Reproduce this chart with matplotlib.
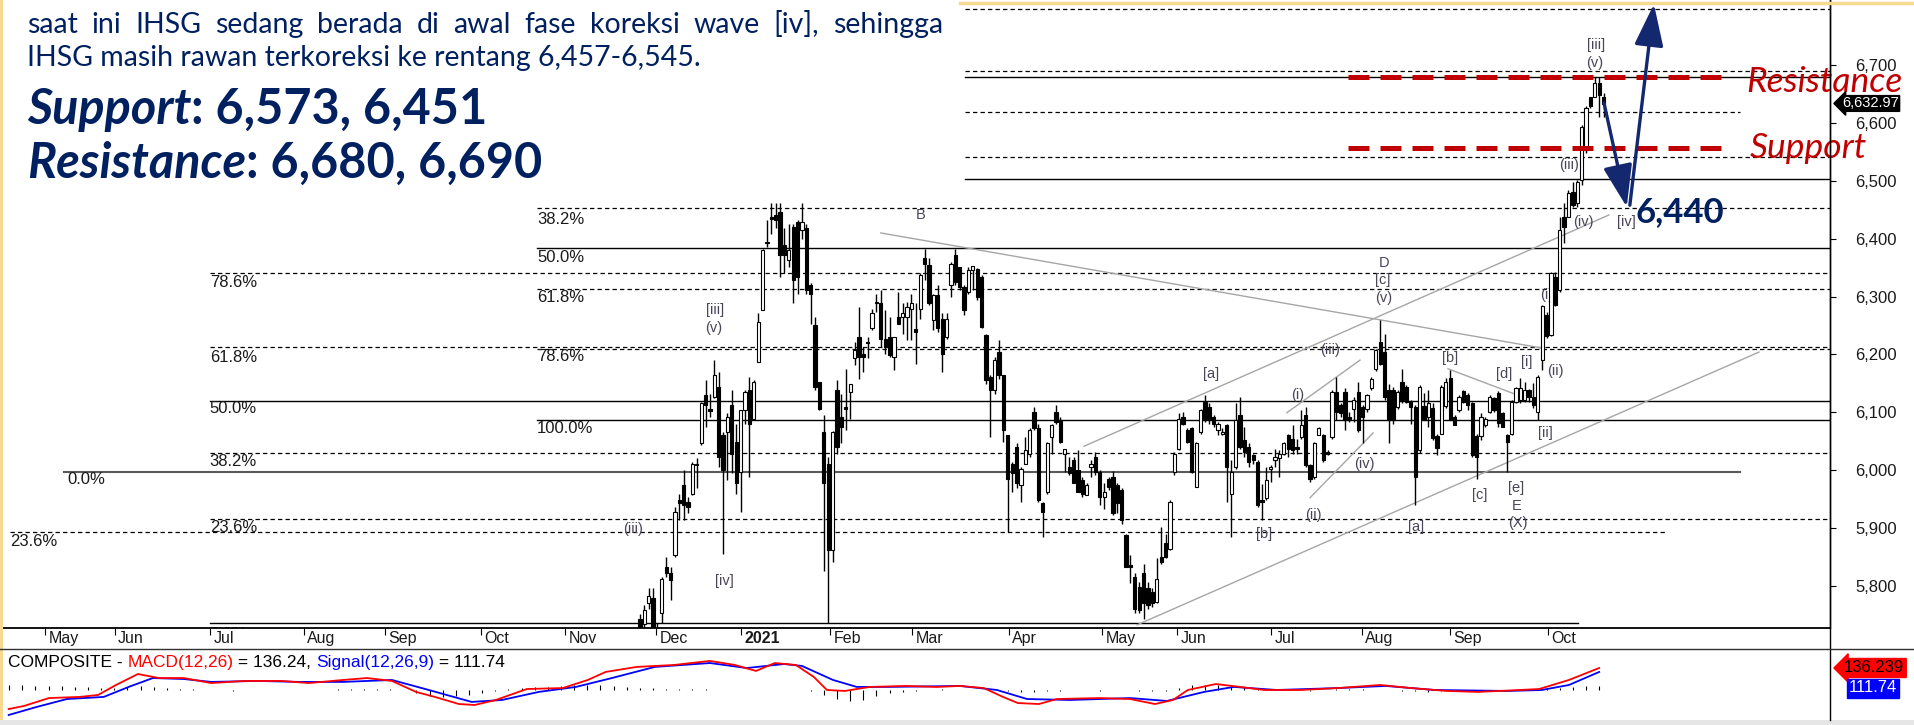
import matplotlib
matplotlib.use("Agg")
import matplotlib.pyplot as plt
from matplotlib import transforms
from matplotlib.lines import Line2D
from matplotlib.patches import Rectangle

W, H = 1915, 725
NAVY = "#002060"
RED = "#c00000"
WAVE = "#4a4458"
ARROW = "#13286e"

# daily candles, index 0 = first visible candle (late Nov 2020) ... last = 21 Oct 2021
opens = [5742, 5734, 5769, 5778, 5640, 5752, 5832, 5821, 5853, 5948, 5974, 5945, 5958, 6008, 6046, 6129,
         6105, 6126, 6144, 6060, 6065, 6112, 6049, 5997, 6103, 6138, 6089, 6187, 6276, 6395, 6438, 6441,
         6446, 6389, 6363, 6420, 6429, 6415, 6418, 6320, 6250, 6152, 6066, 6011, 5861, 6138, 6092, 6109,
         6135, 6193, 6230, 6201, 6220, 6245, 6290, 6289, 6227, 6230, 6196, 6265, 6265, 6265, 6279, 6243,
         6279, 6366, 6354, 6259, 6302, 6262, 6230, 6320, 6372, 6351, 6317, 6308, 6346, 6348, 6333, 6233,
         6161, 6138, 6204, 6164, 6060, 6011, 6040, 5974, 6011, 6028, 6100, 6072, 5942, 5962, 6057, 6100,
         6086, 6028, 6005, 6017, 6000, 5982, 5956, 6005, 6023, 5997, 5953, 5985, 5988, 5974, 5965, 5887,
         5835, 5815, 5798, 5821, 5795, 5789, 5772, 5850, 5873, 5864, 5997, 6037, 6092, 6069, 6072, 5971,
         6066, 6118, 6109, 6092, 6069, 6063, 6077, 5959, 6005, 6095, 6051, 6040, 6026, 6014, 5948, 5951,
         6002, 6017, 6020, 6028, 6060, 6054, 6040, 6057, 6095, 6008, 5988, 6060, 6060, 6031, 6057, 6135,
         6112, 6135, 6092, 6106, 6135, 6109, 6106, 6141, 6175, 6221, 6204, 6138, 6138, 6109, 6152, 6144,
         6118, 6109, 6035, 6110, 6092, 6107, 6058, 6063, 6110, 6159, 6092, 6104, 6136, 6130, 6115, 6058,
         6058, 6078, 6101, 6124, 6133, 6098, 6060, 6063, 6118, 6121, 6121, 6138, 6127, 6101, 6190, 6268,
         6233, 6334, 6311, 6438, 6438, 6481, 6461, 6502, 6554, 6646, 6646, 6669, 6646]
highs = [5750, 5766, 5795, 5795, 5735, 5815, 5850, 5832, 5936, 5959, 6000, 5953, 6014, 6020, 6117, 6155,
         6132, 6190, 6170, 6065, 6098, 6138, 6080, 6103, 6138, 6161, 6155, 6271, 6383, 6432, 6461, 6461,
         6461, 6418, 6426, 6426, 6432, 6461, 6426, 6323, 6265, 6152, 6095, 6022, 6067, 6155, 6132, 6175,
         6149, 6222, 6282, 6213, 6230, 6279, 6305, 6311, 6276, 6265, 6230, 6308, 6288, 6291, 6305, 6288,
         6340, 6383, 6366, 6305, 6320, 6271, 6271, 6360, 6383, 6351, 6320, 6351, 6353, 6350, 6337, 6236,
         6164, 6196, 6224, 6164, 6060, 6014, 6046, 6005, 6057, 6072, 6109, 6080, 5945, 6049, 6080, 6112,
         6092, 6037, 6023, 6023, 6034, 5988, 5977, 6017, 6031, 6000, 5977, 5988, 5999, 5977, 5968, 5890,
         5853, 5821, 5806, 5838, 5806, 5795, 5847, 5901, 5890, 5948, 6031, 6098, 6100, 6072, 6074, 6049,
         6106, 6129, 6115, 6095, 6083, 6072, 6080, 6017, 6115, 6126, 6075, 6046, 6028, 6017, 5976, 6005,
         6008, 6037, 6034, 6049, 6063, 6077, 6054, 6103, 6109, 6011, 6049, 6075, 6063, 6034, 6138, 6161,
         6115, 6141, 6100, 6126, 6152, 6112, 6132, 6161, 6210, 6259, 6236, 6149, 6144, 6138, 6175, 6147,
         6121, 6112, 6147, 6133, 6138, 6115, 6063, 6147, 6159, 6173, 6095, 6130, 6138, 6133, 6118, 6063,
         6098, 6092, 6130, 6127, 6136, 6101, 6063, 6121, 6144, 6159, 6153, 6140, 6150, 6164, 6286, 6274,
         6343, 6343, 6438, 6461, 6484, 6499, 6502, 6596, 6629, 6646, 6680, 6680, 6652]
lows = [5705, 5720, 5760, 5600, 5620, 5735, 5815, 5775, 5850, 5913, 5913, 5925, 5956, 5968, 6044, 6075,
        6092, 6124, 6005, 5855, 5982, 5994, 5959, 5927, 6080, 5988, 6089, 6187, 6276, 6386, 6409, 6418,
        6334, 6340, 6351, 6288, 6305, 6400, 6305, 6253, 6138, 6103, 5826, 5736, 5840, 6028, 6046, 6069,
        6089, 6181, 6158, 6170, 6193, 6242, 6273, 6213, 6201, 6196, 6173, 6253, 6236, 6224, 6224, 6184,
        6262, 6328, 6285, 6242, 6239, 6170, 6227, 6300, 6320, 6311, 6268, 6305, 6311, 6294, 6245, 6149,
        6057, 6132, 6158, 6049, 5893, 5962, 5968, 5945, 6011, 6023, 6069, 5945, 5884, 5959, 6028, 6080,
        6046, 5997, 5991, 5977, 5962, 5953, 5956, 5988, 5991, 5939, 5933, 5965, 5922, 5925, 5907, 5832,
        5804, 5752, 5752, 5743, 5760, 5763, 5769, 5838, 5847, 5861, 5991, 6034, 6077, 6046, 5994, 5971,
        6063, 6083, 6080, 6075, 6060, 6060, 5945, 5884, 6002, 6037, 6023, 6005, 6010, 5936, 5913, 5948,
        5979, 6005, 5988, 6026, 6023, 6028, 6028, 6054, 6005, 5979, 5985, 6060, 6014, 6026, 6054, 6086,
        6092, 6069, 6083, 6083, 6066, 6046, 6100, 6138, 6172, 6181, 6121, 6046, 6080, 6106, 6115, 6115,
        6080, 5940, 6029, 6086, 6075, 6052, 6026, 6063, 6107, 6086, 6078, 6101, 6115, 6104, 6023, 5985,
        6052, 6075, 6098, 6101, 6075, 6075, 5997, 6060, 6115, 6115, 6118, 6118, 6107, 6086, 6173, 6228,
        6231, 6283, 6308, 6392, 6438, 6455, 6455, 6493, 6548, 6626, 6646, 6611, 6611]
closes = [5728, 5757, 5782, 5612, 5724, 5812, 5821, 5809, 5928, 5942, 5939, 5936, 6010, 6011, 6115, 6112,
          6102, 6164, 6023, 6000, 6092, 6028, 5977, 6103, 6135, 6080, 6152, 6256, 6380, 6392, 6435, 6432,
          6372, 6372, 6380, 6328, 6334, 6429, 6311, 6305, 6144, 6106, 5977, 5861, 6065, 6040, 6075, 6106,
          6149, 6207, 6196, 6196, 6219, 6271, 6288, 6227, 6213, 6199, 6230, 6253, 6271, 6282, 6288, 6239,
          6337, 6357, 6288, 6302, 6245, 6201, 6262, 6357, 6325, 6317, 6276, 6346, 6353, 6299, 6248, 6155,
          6138, 6190, 6164, 6069, 5985, 5994, 5977, 6002, 6034, 6069, 6072, 5948, 5928, 6046, 6077, 6083,
          6049, 6037, 5994, 5977, 5962, 5959, 5974, 6011, 5997, 5953, 5962, 5970, 5925, 5942, 5913, 5832,
          5832, 5760, 5757, 5769, 5766, 5769, 5812, 5841, 5850, 5945, 6028, 6089, 6080, 6049, 5997, 6046,
          6103, 6086, 6086, 6080, 6080, 6066, 6005, 5997, 6086, 6040, 6031, 6014, 6017, 5939, 5945, 5982,
          6005, 6023, 6028, 6046, 6037, 6034, 6037, 6077, 6008, 5985, 6046, 6072, 6017, 6028, 6135, 6100,
          6098, 6086, 6086, 6121, 6069, 6092, 6129, 6158, 6207, 6184, 6126, 6086, 6086, 6135, 6121, 6118,
          6109, 5988, 6144, 6086, 6115, 6055, 6038, 6144, 6153, 6086, 6078, 6127, 6118, 6112, 6026, 6023,
          6092, 6089, 6127, 6104, 6081, 6075, 6049, 6118, 6141, 6141, 6138, 6127, 6112, 6161, 6283, 6231,
          6340, 6286, 6415, 6420, 6479, 6458, 6499, 6594, 6626, 6629, 6669, 6649, 6633]
last_price = "6,632.97"

month_pos = [-135.8, -119.9, -98.2, -76.7, -58.2, -36.3, -17.1, 3.7, 23.1, 43.4,
             62.1, 84.2, 105.5, 122.6, 144.1, 164.8, 184.9, 207.3]
month_lab = ["May", "Jun", "Jul", "Aug", "Sep", "Oct", "Nov", "Dec", "2021", "Feb",
             "Mar", "Apr", "May", "Jun", "Jul", "Aug", "Sep", "Oct"]
price_ticks = [5800, 5900, 6000, 6100, 6200, 6300, 6400, 6500, 6600, 6700]

# retracement / projection levels: price, start, end, style (d dashed, s solid, g grey)
fib_price = [6797, 6690, 6680, 6620, 6541, 6503, 6453, 6384, 6340, 6313,
             6213, 6209, 6120, 6086, 6029, 5997, 5916, 5893, 5736]
fib_start = [74.2, 74.2, 74.2, 74.2, 74.2, 74.2, -23.5, -23.5, -98.2, -23.5,
             -98.2, -23.5, -98.2, -23.5, -98.2, -131.5, -98.2, -143.8, -98.2]
fib_end = [280, 280, 280, 251.1, 280, 280, 280, 280, 280, 280,
           280, 280, 280, 280, 280, 251.1, 280, 234.5, 214.2]
fib_style = ["d", "d", "s", "d", "d", "s", "d", "s", "d", "d",
             "d", "d", "s", "s", "d", "g", "d", "d", "s"]

fib_text = ["38.2%", "50.0%", "78.6%", "61.8%", "61.8%", "78.6%", "50.0%", "100.0%",
            "38.2%", "0.0%", "23.6%", "23.6%", "0.0%"]
fib_tx = [-23.5, -23.5, -98.2, -23.5, -98.2, -23.5, -98.2, -23.5, -98.2, -130.8, -98.2, -143.8, -98.2]
fib_ty = [6434, 6367, 6324, 6298, 6194, 6196, 6106, 6071, 6014, 5983, 5900, 5877, 5716]

wave_text = ["B", "[iii]", "(v)", "[iv]", "(iii)", "[a]", "[b]", "(i)", "(iii)", "D", "[c]", "(v)",
             "(iv)", "(ii)", "[a]", "[b]", "[c]", "[d]", "[e]", "E", "(X)", "[i]", "(ii)", "[ii]",
             "(i)", "(iv)", "[iv]", "(iii)", "[iii]", "(v)"]
wave_x = [64.2, 17.1, 16.9, 19.2, -1.6, 130.4, 142.5, 150.2, 157.5, 169.9, 169.6, 169.9,
          165.3, 153.7, 177.2, 184.9, 191.8, 197.3, 200.0, 200.2, 200.5, 202.5, 209.1, 206.8,
          207.1, 215.5, 225.3, 212.1, 218.3, 218.0]
wave_y = [6441, 6277, 6246, 5808, 5898, 6166, 5889, 6130, 6208, 6358, 6329, 6298,
          6010, 5922, 5901, 6194, 5957, 6166, 5969, 5938, 5908, 6187, 6171, 6064,
          6303, 6429, 6429, 6528, 6735, 6704]

trend_x0 = [55.0, 101.4, 113.5, 147.7, 153.0, 184.5]
trend_p0 = [6410, 6041, 5732, 6099, 5952, 6175]
trend_x1 = [205.9, 221.2, 255.5, 164.4, 167.4, 200.2]
trend_p1 = [6211, 6441, 6204, 6190, 6064, 6130]

resistance_lvl, support_lvl = 6680, 6557
zone_x = [161.6, 247.5]
path_x = [220.1, 225.3, 226.0, 231.5]
path_p = [6635, 6455, 6458, 6806]

macd_x = [-144.1, -140.6, -134.9, -127.9, -123.7, -119.6, -114.6, -109.8, -104.1, -97.9, -90.2,
          -81.7, -75.6, -67.8, -62.3, -56.6, -51.1, -46.8, -41.3, -37.7, -32.9, -25.8, -17.6,
          -11.9, -7.8, -0.7, 7.8, 16.0, 21.7, 26.5, 30.8, 35.6, 39.7, 42.7, 46.8, 52.5, 60.7,
          67.8, 73.1, 78.5, 82.9, 86.3, 91.1, 95.2, 105.0, 111.9, 117.6, 121.7, 125.1, 131.5,
          137.0, 142.5, 150.9, 159.4, 169.0, 176.0, 184.2, 191.3, 200.9, 205.3, 212.1, 219.0]
macd_v = [-118, -99, -50, -43, -31, 31, 99, 74, 74, 43, 56, 56, 43, 62, 74, 56, -12, -43, -87,
          -93, -62, 6, 12, 62, 112, 143, 155, 180, 155, 118, 167, 155, 81, 0, -6, 19, 25, 19,
          25, 12, -43, -81, -87, -56, -50, -56, -87, -62, 0, 37, 19, 0, 0, 12, 31, 12, -6, -12,
          0, 6, 62, 136.24]
sig_x = [-144.1, -137.7, -130.8, -122.4, -116.7, -111.2, -104.1, -97.9, -87.4, -77.6, -67.8,
         -56.6, -48.2, -38.4, -31.5, -23.1, -14.6, -6.4, 3.4, 16.0, 24.4, 32.9, 37.0, 44.1,
         49.5, 56.6, 73.1, 81.5, 88.4, 98.2, 111.9, 120.3, 128.8, 135.6, 145.4, 159.4, 170.3,
         181.5, 198.2, 205.9, 212.1, 219.0]
sig_v = [-155, -105, -56, -43, 19, 74, 68, 50, 56, 50, 50, 62, 0, -74, -62, -12, 19, 74, 143,
         167, 136, 161, 149, 62, 19, 19, 25, 0, -56, -62, -50, -68, -12, 19, 0, 12, 25, 0, -6,
         0, 31, 111.74]
hist_x = list(range(-144, 220, 3))
hist_v = [28, 30, 26, 24, 22, 20, 18, 15, 12, 20, 25, 18, 10, 6, 4, 3, -3, -4, -3, 3, 2,
          2, 3, 2, 3, 4, 5, 6, 8, 6, 3, -20, -35, -45, -40, -30, -18, -8, 5, 15, 18, 20,
          25, 28, 30, 28, 25, 20, 15, 10, 8, 6, 5, 4, 3, 2, 3, 2, 2, 3, 2, -4,
          -30, -55, -70, -60, -40, -20, -10, -5, 3, 4, 3, 2, 3, -3, -6, -10, -12, -8, -5, -3,
          -3, -4, 2, 3, -5, -8, -6, 15, 28, 32, 30, 24, 18, 10, 4, 2, -3, -4, 3, 4,
          6, 5, 3, -3, -5, -8, -10, -7, -5, -4, -3, -2, 2, 3, 4, 8, 15, 20, 24, 25]

plt.rcParams["font.family"] = ["Liberation Sans", "DejaVu Sans"]
fig = plt.figure(figsize=(W / 100, H / 100), dpi=100)
fig.patch.set_facecolor("white")


def fx(px):
    return px / W


def fy(py):
    return 1 - py / H


# ================= price panel
ax = fig.add_axes([fx(3), fy(628), fx(1830) - fx(3), 628 / H])
ax.set_xlim(-145.4, 271.7)
ax.set_ylim(5726.6, 6813)
ax.set_facecolor("white")

for p, x0, x1, st in zip(fib_price, fib_start, fib_end, fib_style):
    if st == "d":
        ax.plot([x0, x1], [p, p], color="black", lw=0.9, ls=(0, (3.5, 2.5)), zorder=1)
    elif st == "s":
        ax.plot([x0, x1], [p, p], color="black", lw=1.0, zorder=1)
    else:
        ax.plot([x0, x1], [p, p], color="#5a5a5a", lw=1.5, zorder=1)

for s, x, y in zip(fib_text, fib_tx, fib_ty):
    ax.text(x, y, s, fontsize=12, ha="left", va="center", color="#1a1a1a", zorder=2, clip_on=True)

for x0, p0, x1, p1 in zip(trend_x0, trend_p0, trend_x1, trend_p1):
    ax.plot([x0, x1], [p0, p1], color="#a6a6a6", lw=1.0, zorder=2)

for s, x, y in zip(wave_text, wave_x, wave_y):
    ax.text(x, y, s, fontsize=10.5, ha="center", va="center", color=WAVE, zorder=2)

idx = list(range(len(closes)))
ax.vlines(idx, lows, highs, color="black", lw=1.0, zorder=3)
bottoms = [min(o, c) for o, c in zip(opens, closes)]
heights = [max(abs(c - o), 1.5) for o, c in zip(opens, closes)]
fills = ["white" if c >= o else "black" for o, c in zip(opens, closes)]
ax.bar(idx, heights, bottom=bottoms, width=0.74, color=fills, edgecolor="black", linewidth=0.8, zorder=4)

# support / resistance zone and projected path
for lvl in (resistance_lvl, support_lvl):
    ax.plot(zone_x, [lvl, lvl], color=RED, lw=3.6, ls=(0, (4.2, 2.2)), zorder=5)
ax.text(252.5, 6654, "Resistance", color=RED, fontsize=25.5, family="Lato", style="italic",
        va="baseline", ha="left", clip_on=False, zorder=6)
ax.text(253.4, 6540, "Support", color=RED, fontsize=25.5, family="Lato", style="italic",
        va="baseline", ha="left", clip_on=False, zorder=6)

ax.annotate("", xy=(path_x[1], path_p[1]), xytext=(path_x[0], path_p[0]),
            arrowprops=dict(arrowstyle="-|>,head_length=1.3,head_width=0.45", color=ARROW, lw=2.4,
                            mutation_scale=20, shrinkA=0, shrinkB=0), zorder=6)
ax.annotate("", xy=(path_x[3], path_p[3]), xytext=(path_x[2], path_p[2]),
            arrowprops=dict(arrowstyle="-|>,head_length=1.3,head_width=0.45", color=ARROW, lw=2.4,
                            mutation_scale=20, shrinkA=0, shrinkB=0), zorder=6, annotation_clip=False)
ax.text(227.4, 6429, "6,440", fontsize=25, fontweight="bold", family="Lato", color=NAVY,
        va="baseline", ha="left", zorder=6)

# axes styling
for side in ("top", "left"):
    ax.spines[side].set_visible(False)
ax.spines["bottom"].set_linewidth(1.3)
ax.spines["right"].set_linewidth(1.0)
ax.yaxis.tick_right()
ax.set_yticks(price_ticks)
ax.set_yticklabels([f"{v:,}" for v in price_ticks])
ax.tick_params(axis="y", direction="out", length=4, width=0.8, pad=14, labelsize=12,
               labelcolor="#1a1a1a")
ax.set_xticks(month_pos)
ax.set_xticklabels([])
ax.tick_params(axis="x", direction="out", length=5, width=0.8)
xt = transforms.blended_transform_factory(ax.transData, ax.transAxes)
for pos, lab in zip(month_pos, month_lab):
    ax.text(pos + 0.8, -0.005, lab, transform=xt, fontsize=11.5, ha="left", va="top",
            fontweight="bold" if lab == "2021" else "normal", color="#1a1a1a", clip_on=False)

tag = transforms.blended_transform_factory(fig.transFigure, ax.transData)
ax.text(fx(1842), 6634, last_price, transform=tag, color="white", fontsize=10.5, ha="left",
        va="center", clip_on=False, zorder=7,
        bbox=dict(boxstyle="larrow,pad=0.06", fc="black", ec="black"))

# ================= MACD panel
ax2 = fig.add_axes([fx(3), fy(720), fx(1830) - fx(3), 71 / H])
ax2.set_xlim(-145.4, 271.7)
ax2.set_ylim(-186, 254)
ax2.axis("off")
ax2.vlines(hist_x, 0, hist_v, color="black", lw=0.8)
ax2.plot(sig_x, sig_v, color="#0000ff", lw=1.3)
ax2.plot(macd_x, macd_v, color="#ff0000", lw=1.3)

renderer = fig.canvas.get_renderer()


def chain(x_px, y_px, parts, **kw):
    for s, props in parts:
        t = fig.text(fx(x_px), fy(y_px), s, ha="left", va="baseline", **kw, **props)
        x_px = t.get_window_extent(renderer).x1


chain(8, 667, [("COMPOSITE - ", dict(color="black")), ("MACD(12,26)", dict(color="#ff0000")),
               (" = 136.24, ", dict(color="black")), ("Signal(12,26,9)", dict(color="#0000ff")),
               (" = 111.74", dict(color="black"))], fontsize=12.5)
fig.text(fx(1844), fy(668), "136.239", color="black", fontsize=12, ha="left", va="center",
         bbox=dict(boxstyle="larrow,pad=0.12", fc="#ff0000", ec="#ff0000"))
fig.text(fx(1849), fy(688), "111.74", color="white", fontsize=12, ha="left", va="center",
         bbox=dict(boxstyle="square,pad=0.12", fc="#0000ff", ec="#0000ff"))

# frame lines, slide border, bottom bar
fig.add_artist(Line2D([fx(1830), fx(1830)], [fy(720), fy(0)], color="black", lw=1.0))
fig.add_artist(Line2D([0, 1], [fy(649), fy(649)], color="#303030", lw=1.0))
fig.add_artist(Rectangle((0, 0), 1, 5 / H, transform=fig.transFigure, fc="#e6e6e6", ec="none"))
fig.add_artist(Rectangle((0, fy(720)), fx(3), 720 / H, transform=fig.transFigure, fc="#f7d98f", ec="none"))
fig.add_artist(Line2D([fx(960), 1], [fy(3), fy(3)], color="#f7d98f", lw=2.5))

# ================= commentary text (first line justified to the column width)
body = dict(family="Lato", color=NAVY)
words = "saat ini IHSG sedang berada di awal fase koreksi wave [iv], sehingga".split()
wts = [fig.text(0, 0, w, fontsize=20.5, ha="left", va="baseline", **body) for w in words]
wws = [t.get_window_extent(renderer).width for t in wts]
gap = (943 - 27 - sum(wws)) / (len(words) - 1)
xw = 27
for t, w in zip(wts, wws):
    t.set_position((fx(xw), fy(33)))
    xw += w + gap
fig.text(fx(27), fy(66), "IHSG masih rawan terkoreksi ke rentang 6,457-6,545.",
         fontsize=20.5, ha="left", va="baseline", **body)
chain(27, 124, [("Support", dict(style="italic")), (": 6,573, 6,451", dict())],
      fontsize=35, fontweight="bold", **body)
chain(27, 178, [("Resistance", dict(style="italic")), (": 6,680, 6,690", dict())],
      fontsize=35, fontweight="bold", **body)

fig.savefig("out.png", dpi=100)
